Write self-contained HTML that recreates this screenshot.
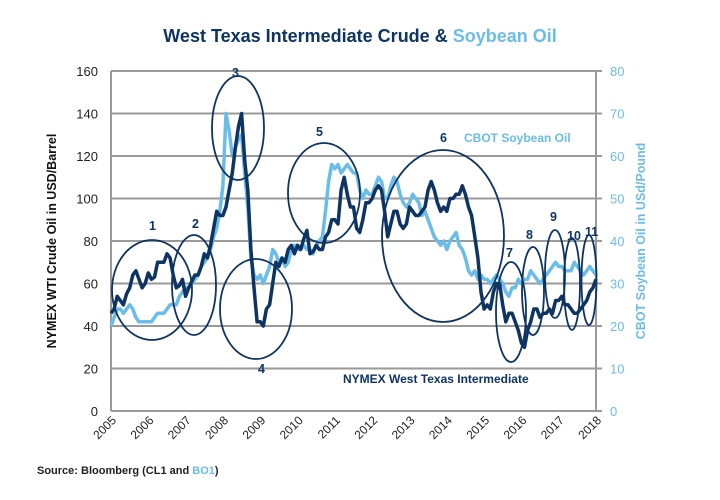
<!DOCTYPE html>
<html><head><meta charset="utf-8"><style>
body{margin:0;background:#fff;}
svg{display:block;font-family:"Liberation Sans",sans-serif;}
</style></head><body>
<svg id="chart" width="720" height="500" viewBox="0 0 720 500">
<text x="360" y="42" text-anchor="middle" font-size="18" font-weight="bold" fill="#0d3462">West Texas Intermediate Crude &amp; <tspan fill="#6bbde9">Soybean Oil</tspan></text>
<g id="grid"></g><g id="axes"></g><g id="series"></g><g id="annot"></g>
<text transform="translate(56,241) rotate(-90)" text-anchor="middle" font-size="12.5" font-weight="bold" fill="#111">NYMEX WTI Crude Oil in USD/Barrel</text>
<text transform="translate(645,241) rotate(-90)" text-anchor="middle" font-size="12.5" font-weight="bold" fill="#6bbde9">CBOT Soybean Oil in USd/Pound</text>
<text x="464" y="142" font-size="12" font-weight="bold" fill="#6bbde9">CBOT Soybean Oil</text>
<text x="343" y="383" font-size="12" font-weight="bold" fill="#0d3462">NYMEX West Texas Intermediate</text>
<text x="37" y="474" font-size="11" font-weight="bold" fill="#222">Source: Bloomberg (CL1 and <tspan fill="#6bbde9">BO1</tspan>)</text>
</svg>
<script>
const years=[2005,2006,2007,2008,2009,2010,2011,2012,2013,2014,2015,2016,2017,2018];
const leftTicks=[0,20,40,60,80,100,120,140,160];
const rightTicks=[0,10,20,30,40,50,60,70,80];
const wti=[46,48,54,52,50,55,58,64,66,62,58,60,
65,62,63,70,70,70,74,72,64,58,59,62,
54,58,61,64,64,68,74,72,78,86,94,92,
92,96,104,112,124,134,140,118,104,76,58,42,
42,40,48,50,60,70,68,72,70,76,78,74,
78,76,81,85,74,75,78,76,76,82,84,90,
90,88,104,110,102,96,96,86,84,90,98,98,
100,104,106,104,94,82,88,94,94,88,86,88,
96,94,92,92,94,96,104,108,104,98,94,96,
94,100,100,102,102,106,102,96,92,82,72,56,
48,50,48,56,60,60,50,42,46,46,42,38,
32,30,38,42,48,48,44,46,46,48,46,52,
52,54,50,50,48,46,46,48,50,52,56,58,62];
const soy=[20,22,24,24,23,24,25,24,22,21,21,21,
21,21,22,23,23,23,24,25,25,25,27,28,
29,29,30,31,32,34,35,36,38,41,43,47,
53,70,66,60,62,64,65,56,48,36,32,31,
32,30,32,34,38,37,35,36,34,35,38,39,
38,38,39,38,38,37,39,40,41,47,54,58,
57,58,56,57,58,57,56,56,52,50,52,51,
51,53,55,54,50,50,53,55,54,51,49,48,
49,51,50,49,46,47,45,43,41,40,39,40,
38,40,41,42,39,38,36,33,32,33,31,32,
31,31,30,31,32,31,30,28,27,29,29,31,
30,31,31,33,32,31,30,31,32,33,34,35,
34,34,33,33,33,35,34,33,32,33,34,33,32];
const NS="http://www.w3.org/2000/svg";
const X0=111,X1=596,Y0=411,Y1=71;
const xs=t=>X0+(t-2005)/13*(X1-X0);
const yl=v=>Y0-v/160*(Y0-Y1);
const yr=v=>Y0-v/80*(Y0-Y1);
function mk(tag,attrs,parent){const e=document.createElementNS(NS,tag);for(const k in attrs)e.setAttribute(k,attrs[k]);document.getElementById(parent).appendChild(e);return e;}
leftTicks.forEach((v,i)=>{
 const g=mk('line',{x1:X0,x2:X1+6,y1:yl(v),y2:yl(v),stroke:'#9a9a9a','stroke-width':2},'grid');
 
 
 const t=mk('text',{x:98,y:yl(v)+5,'text-anchor':'end','font-size':13,fill:'#222'},'axes');t.textContent=v;
 
 
});
rightTicks.forEach(v=>{
 const t=mk('text',{x:610,y:yr(v)+5,'font-size':13,fill:'#6bbde9'},'axes');t.textContent=v;
 
 
});
const la=mk('line',{x1:X0,x2:X0,y1:Y1,y2:Y0,stroke:'#9a9a9a','stroke-width':2},'axes');


const ra=mk('line',{x1:X1,x2:X1,y1:Y1,y2:Y0,stroke:'#9a9a9a','stroke-width':2},'axes');


years.forEach(y=>{
 const x=xs(y);
 const t=mk('text',{x:0,y:0,'text-anchor':'end','font-size':12,fill:'#222',transform:`translate(${x+6},${Y0+10}) rotate(-45)`},'axes');t.textContent=y;
 
 
});
function path(arr,yf){return arr.map((v,i)=>(i?'L':'M')+xs(2005+i/12).toFixed(1)+','+yf(v).toFixed(1)).join('');}
const ps=mk('path',{d:path(soy,yr),fill:'none',stroke:'#6bbde9','stroke-width':3.5,'stroke-linejoin':'round'},'series');


const pw=mk('path',{d:path(wti,yl),fill:'none',stroke:'#0d3462','stroke-width':3.5,'stroke-linejoin':'round'},'series');


const circles=[[152,290,40,50,'1',149,230],[194,285,22,50,'2',192,228],[238,128,26,52,'3',232,77],[256,309,36,50,'4',258,373],[324,193,36,50,'5',316,136],[443,236,61,86,'6',440,142],[511,312,15,50,'7',506,257],[533,291,11,44,'8',526,239],[555,274,10,44,'9',550,221],[572,284,8,46,'10',567,240],[589,280,7.5,45,'11',585,236]];
circles.forEach(c=>{
 const e=mk('ellipse',{cx:c[0],cy:c[1],rx:c[2],ry:c[3],fill:'none',stroke:'#0d3462','stroke-width':1.8},'annot');
 
 
 const t=mk('text',{x:c[5],y:c[6],'font-size':12.5,'font-weight':'bold',fill:'#0d3462'},'annot');t.textContent=c[4];
 
 
});
</script>
</body></html>
